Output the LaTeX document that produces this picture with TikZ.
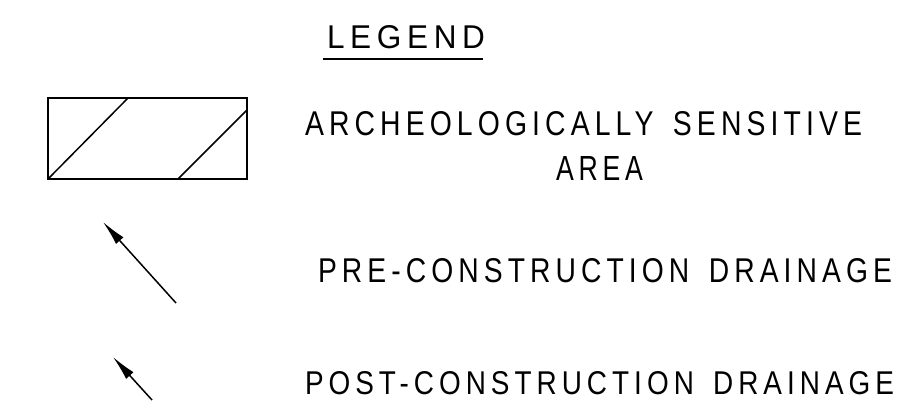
\documentclass[tikz,border=0pt]{standalone}
\usepackage{fontspec}
\setmainfont{Liberation Sans}
\newfontfamily\cadfont[LetterSpace=18,WordSpace=1.5]{Liberation Sans}
\usetikzlibrary{arrows.meta}
\newcommand{\fitlabel}[3]{\resizebox{#1pt}{#2pt}{\cadfont\fontsize{30}{30}\selectfont #3}}
\begin{document}
\begin{tikzpicture}[x=1pt,y=-1pt,
  legendtext/.style={anchor=base west, inner sep=0pt, outer sep=0pt},
  frame/.style={draw, line width=2pt, inner sep=0pt, outer sep=0pt, anchor=north west},
  hatch/.style={line width=1.5pt},
  uline/.style={line width=2pt},
  flow/.style={line width=1.5pt, -{Latex[length=25pt,width=10pt]}}]
\useasboundingbox (0,0) rectangle (900,416);
% title
\node[legendtext] (title) at (327,48) {\fitlabel{158}{23}{LEGEND}};
\coordinate (ulA) at (323,59);
\coordinate (ulB) at (483,59);
\draw[uline] (ulA) -- (ulB);
% hatched area symbol
\node[frame, minimum width=199pt, minimum height=81pt] (area) at (48,98) {};
\coordinate (h1top) at (128,98);
\coordinate (h2bot) at (178,179);
\coordinate (h2top) at (247,110);
\draw[hatch] (area.south west) -- (h1top);
\draw[hatch] (h2bot) -- (h2top);
% arrows
\coordinate (preTail) at (176,303);
\coordinate (preTip) at (103,222);
\draw[flow] (preTail) -- (preTip);
\coordinate (postTail) at (152,400);
\coordinate (postTip) at (113,357);
\draw[flow] (postTail) -- (postTip);
% labels
\node[legendtext] (archA) at (305,135) {\fitlabel{557}{24}{ARCHEOLOGICALLY SENSITIVE}};
\node[legendtext] (archB) at (556,180) {\fitlabel{87}{24}{AREA}};
\node[legendtext] (pre) at (318,282) {\fitlabel{574}{24}{PRE-CONSTRUCTION DRAINAGE}};
\node[legendtext] (post) at (305,394) {\fitlabel{589}{23}{POST-CONSTRUCTION DRAINAGE}};
\end{tikzpicture}
\end{document}
